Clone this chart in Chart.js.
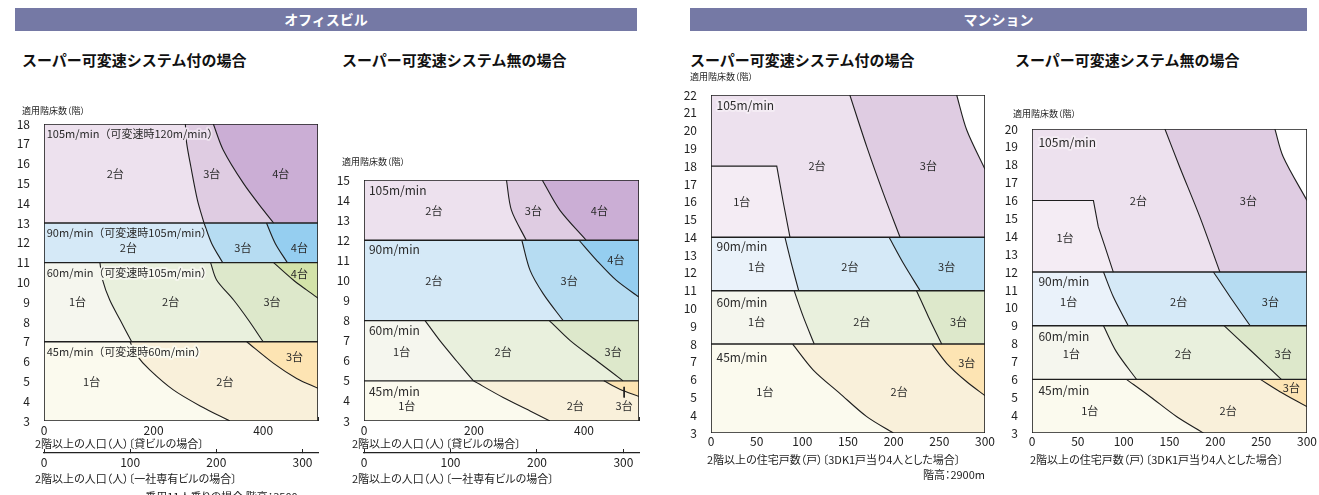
<!DOCTYPE html>
<html><head><meta charset="utf-8">
<script src="https://cdn.jsdelivr.net/npm/chart.js@4.4.1/dist/chart.umd.min.js"></script>
<style>
body{margin:0;background:#fff;width:1319px;height:495px;overflow:hidden;position:relative;font-family:"Noto Sans CJK JP","Noto Sans",sans-serif;color:#222}
.abs{position:absolute;white-space:nowrap}
.band{position:absolute;background:#7579a5;color:#fff;font-weight:bold;font-size:14px;text-align:center;line-height:23px;height:23px}
.ttl{font-size:15px;font-weight:bold;line-height:18px;color:#111}
.ytl{font-size:9px;line-height:11px;font-feature-settings:"palt"}
.xtl{font-size:11px;line-height:14px;font-feature-settings:"palt"}
canvas{position:absolute}
</style></head><body>
<canvas id="c1" width="340" height="395" style="left:0px;top:100px"></canvas>
<canvas id="c2" width="330" height="345" style="left:330px;top:150px"></canvas>
<canvas id="c3" width="335" height="415" style="left:670px;top:80px"></canvas>
<canvas id="c4" width="329" height="385" style="left:990px;top:110px"></canvas>

<div class="band" style="left:15px;top:8px;width:622px">オフィスビル</div>
<div class="band" style="left:690px;top:8px;width:617px">マンション</div>
<div class="abs ttl" style="left:22px;top:51px">スーパー可変速システム付の場合</div>
<div class="abs ttl" style="left:342px;top:51px">スーパー可変速システム無の場合</div>
<div class="abs ttl" style="left:690px;top:51px">スーパー可変速システム付の場合</div>
<div class="abs ttl" style="left:1015px;top:51px">スーパー可変速システム無の場合</div>
<div class="abs ytl" style="left:22px;top:105px">適用階床数（階）</div>
<div class="abs ytl" style="left:342px;top:156px">適用階床数（階）</div>
<div class="abs ytl" style="left:690px;top:71px">適用階床数（階）</div>
<div class="abs ytl" style="left:1013px;top:108px">適用階床数（階）</div>
<div class="abs xtl" style="left:35px;top:436px">2階以上の人口（人）〔貸ビルの場合〕</div>
<div class="abs xtl" style="left:35px;top:471px">2階以上の人口（人）〔一社専有ビルの場合〕</div>
<div class="abs xtl" style="left:100px;width:218px;text-align:right;top:489px">乗用11人乗りの場合 階高：3500mm</div>
<div class="abs xtl" style="left:352px;top:436px">2階以上の人口（人）〔貸ビルの場合〕</div>
<div class="abs xtl" style="left:352px;top:471px">2階以上の人口（人）〔一社専有ビルの場合〕</div>
<div class="abs xtl" style="left:707px;top:452px">2階以上の住宅戸数（戸）〔3DK1戸当り4人とした場合〕</div>
<div class="abs xtl" style="left:785px;width:200px;text-align:right;top:467px">階高：2900m</div>
<div class="abs xtl" style="left:1030px;top:452px">2階以上の住宅戸数（戸）〔3DK1戸当り4人とした場合〕</div>

<script>
// ---------- DATA ----------
// Office, with super variable speed system
const officeA_floors = [3, 18];
const officeA_popMax = 500;        // 貸ビル population axis max
const officeA_popMax2 = 318;       // 一社専有ビル population axis max
const officeA_bands = [[13, 18], [11, 13], [7, 11], [3, 7]];
const officeA_curves = [
  [ [[258,18],[260,17.1],[268,15.84],[280,14.16],[292,13]],
    [[309,18],[327,16.69],[364,15.0],[400,13.66],[419,13]] ],
  [ [[292,13],[306,11.97],[326,11]],
    [[406,13],[422,11.97],[444,11]] ],
  [ [[102,11],[107,10.12],[120,9.11],[139,8.1],[160,7]],
    [[304,11],[315,10.12],[346,9.11],[373,8.1],[400,7]],
    [[419,11],[455,10.12],[479,9.62],[500,9.2]] ],
  [ [[157,7],[169,6.33],[193,5.58],[236,4.57],[285,3.76],[339,3]],
    [[370,7],[419,5.91],[461,5.15],[500,4.65]] ]
];
const officeA_labels = [
  ['105m/min（可変速時120m/min）', 5, 17.5, 'left'],
  ['2台', 130, 15.5], ['3台', 306, 15.5], ['4台', 432, 15.5],
  ['90m/min（可変速時105m/min）', 5, 12.48, 'left'],
  ['2台', 154, 11.75], ['3台', 363, 11.75], ['4台', 466, 11.75],
  ['60m/min（可変速時105m/min）', 5, 10.49, 'left'],
  ['4台', 466, 10.45], ['1台', 61, 9.0], ['2台', 231, 9.0], ['3台', 416, 9.0],
  ['45m/min（可変速時60m/min）', 5, 6.5, 'left'],
  ['3台', 457, 6.25], ['1台', 87, 4.98], ['2台', 330, 5.0]
];

// Office, without super variable speed system
const officeB_floors = [3, 15];
const officeB_popMax = 500;
const officeB_popMax2 = 318;
const officeB_bands = [[12, 15], [8, 12], [5, 8], [3, 5]];
const officeB_curves = [
  [ [[259,15],[268,13.5],[295,12]],
    [[324,15],[356,13.5],[404,12]] ],
  [ [[287,12],[302,10.5],[326,9.33],[362,8]],
    [[391,12],[423,11],[459,10],[500,9.17]] ],
  [ [[111,8],[138,7],[168,6],[199,5]],
    [[337,8],[375,7],[423,6],[471,5]] ],
  [ [[199,5],[253,4.17],[302,3.5],[338,3]],
    [[436,5],[465,4.58],[500,4.22]] ]
];
const officeB_leader = [[473, 4.7], [473, 4.17]];
const officeB_labels = [
  ['105m/min', 9, 14.47, 'left'], ['2台', 127, 13.45], ['3台', 308, 13.45], ['4台', 428, 13.45],
  ['90m/min', 9, 11.53, 'left'], ['4台', 458, 11.03], ['2台', 127, 10], ['3台', 373, 10],
  ['60m/min', 9, 7.5, 'left'], ['1台', 68.5, 6.45], ['2台', 253, 6.45], ['3台', 453, 6.45],
  ['45m/min', 9, 4.47, 'left'], ['1台', 77.6, 3.75], ['2台', 384, 3.75], ['3台', 473, 3.75]
];

// Mansion, with super variable speed system
const mansionA_floors = [3, 22];
const mansionA_unitsMax = 300;
const mansionA_bands = [[14, 22], [11, 14], [8, 11], [3, 8]];
const mansionA_curves = [
  [ [[0,18],[72,18],[79,16],[86.5,14]],
    [[152,22],[170.5,19.1],[188.7,16.47],[207,14]],
    [[269,22],[280,20.03],[300,17.82]] ],
  [ [[81,14],[88,12.54],[96,11]],
    [[195,14],[210.6,12.54],[229,11]] ],
  [ [[91,11],[101,9.54],[113,8]],
    [[225,11],[238,9.54],[252.6,8]] ],
  [ [[89.4,8],[112,6.54],[141,5.23],[170.5,3.92],[199.6,3]],
    [[242,8],[258,6.92],[280,5.88],[300,5.1]] ]
];
const mansionA_labels = [
  ['105m/min', 6, 21.44, 'left'], ['2台', 116, 18.0], ['3台', 238, 18.0], ['1台', 33.6, 16.0],
  ['90m/min', 6, 13.47, 'left'], ['1台', 50, 12.35], ['2台', 152, 12.35], ['3台', 258, 12.35],
  ['60m/min', 6, 10.33, 'left'], ['1台', 50, 9.26], ['2台', 165, 9.26], ['3台', 271, 9.26],
  ['45m/min', 6, 7.25, 'left'], ['3台', 280, 6.97], ['1台', 59, 5.32], ['2台', 206, 5.32]
];

// Mansion, without super variable speed system
const mansionB_floors = [3, 20];
const mansionB_unitsMax = 300;
const mansionB_bands = [[12, 20], [9, 12], [6, 9], [3, 6]];
const mansionB_curves = [
  [ [[0,16],[67,16],[72.3,14.54],[79.6,13.42],[88.7,12]],
    [[145,20],[161,17.89],[183,15.1],[205,12]],
    [[265,20],[274,18.45],[300,16]] ],
  [ [[78,12],[88.7,10.62],[105,9]],
    [[198,12],[216,10.62],[238,9]] ],
  [ [[78,9],[92,7.55],[114,6]],
    [[209.5,9],[238,7.64],[272,6]] ],
  [ [[103,6],[129,5.03],[158,3.91],[187,3]],
    [[249,6],[270.5,5.31],[300,4.47]] ]
];
const mansionB_labels = [
  ['105m/min', 7, 19.26, 'left'], ['2台', 116, 15.99], ['3台', 236, 15.99], ['1台', 36, 13.89],
  ['90m/min', 7, 11.5, 'left'], ['1台', 40, 10.34], ['2台', 160, 10.34], ['3台', 260, 10.34],
  ['60m/min', 7, 8.42, 'left'], ['1台', 43, 7.45], ['2台', 165, 7.45], ['3台', 274, 7.45],
  ['45m/min', 7, 5.40, 'left'], ['3台', 283, 5.5], ['1台', 63, 4.25], ['2台', 214, 4.25]
];

// ---------- STYLE ----------
const FONT = '"Noto Sans CJK JP","Noto Sans",sans-serif';
const CURVE_TENSION = 0.3;
const PURPLE_OFF = ['#ede1ee', '#dfcce2', '#cbaed5'];
const BLUE_OFF = ['#d5e9f7', '#b6dcf2', '#95cef0'];
const GREEN = ['#f5f6ee', '#e9f0dd', '#dde8cb', '#d3e3a9'];
const ORANGE = ['#fbfaee', '#f9f0da', '#fde4b3'];
const PURPLE_MAN = ['#f4ecf4', '#ede1ee', '#dfcce2', '#ffffff'];
const BLUE_MAN = ['#eaf2fa', '#d5e9f7', '#b6dcf2'];

const regionLabels = {
  id: 'regionLabels',
  afterDatasetsDraw(chart, args, opts) {
    if (!opts || !opts.items) return;
    const ctx = chart.ctx, xs = chart.scales.x, ys = chart.scales.y;
    ctx.save();
    ctx.textBaseline = 'middle';
    ctx.lineJoin = 'round';
    for (const [text, x, y, align] of opts.items) {
      ctx.font = (align === 'left' ? opts.bandSize : 11) + 'px ' + FONT;
      ctx.textAlign = align || 'center';
      const px = xs.getPixelForValue(x), py = ys.getPixelForValue(y);
      if (align === 'left') {
        const bi = opts.bands.findIndex(([y0, y1]) => y >= y0 && y <= y1);
        ctx.strokeStyle = opts.palettes[bi][0];
        ctx.lineWidth = 4;
        ctx.strokeText(text, px, py);
      }
      ctx.fillStyle = '#2a2a2a';
      ctx.fillText(text, px, py);
    }
    ctx.restore();
  }
};
Chart.register(regionLabels);

function toPts(arr) { return arr.map(([x, y]) => ({x, y})); }
// Region right of a boundary: the boundary (ends doubled so the smoothed
// part matches the stroked boundary) closed by the plot corners.
function rightOf(pts, xMax, y0, y1) {
  const start = pts[0], end = pts[pts.length - 1];
  const out = [start].concat(pts, [end]);
  const corner = (x, y) => { out.push({x, y}, {x, y}); };
  if (end.y <= y0 + 1e-6) corner(xMax, y0);
  corner(xMax, y1);
  if (start.y < y1 - 1e-6) corner(0, y1);
  corner(start.x, start.y);
  return out;
}
function polyDs(pts, color, tension) {
  return {data: pts, showLine: true, fill: 'shape', backgroundColor: color,
    borderColor: 'rgba(0,0,0,0)', borderWidth: 0, pointRadius: 0, tension};
}
function lineDs(pts, w, tension) {
  return {data: pts, showLine: true, fill: false, borderColor: '#1e1e1e',
    borderWidth: w, pointRadius: 0, tension: tension || 0};
}

function makeChart(id, s) {
  const fills = [], lines = [];
  const [yMin, yMax] = s.floors;
  s.bands.forEach(([y0, y1], bi) => {
    const pal = s.palettes[bi];
    fills.push(polyDs(toPts([[0,y0],[s.xMax,y0],[s.xMax,y1],[0,y1],[0,y0]]), pal[0], 0));
    s.curves[bi].forEach((c, ci) => {
      const pts = toPts(c);
      const t = pts[0].x === 0 ? 0 : CURVE_TENSION;  // boxed region keeps sharp corner
      fills.push(polyDs(rightOf(pts, s.xMax, y0, y1), pal[ci + 1], t));
      lines.push(lineDs(pts, 1.1, t));
    });
    if (bi > 0) lines.push(lineDs(toPts([[0,y1],[s.xMax,y1]]), 1.4));
  });
  (s.extra || []).forEach(e => lines.push(lineDs(toPts(e), 1)));
  lines.push(lineDs(toPts([[0,yMin],[s.xMax,yMin],[s.xMax,yMax],[0,yMax],[0,yMin]]), 1.6));
  const datasets = fills.concat(lines).reverse();

  const tickFont = {family: FONT, size: 12};
  const scales = {
    x: {type: 'linear', min: 0, max: s.xMax, position: 'bottom', weight: 0,
      afterFit: sc => { sc.height = s.xH; },
      ticks: {stepSize: s.xStep, autoSkip: false, maxRotation: 0, includeBounds: false,
        padding: s.xPad, color: '#222', font: tickFont, callback: s.xCb},
      grid: {display: s.tickIn, drawOnChartArea: false, drawTicks: s.tickIn, tickLength: -4, color: '#222'},
      border: {display: false}},
    y: {type: 'linear', min: yMin, max: yMax,
      afterFit: sc => { sc.width = s.yW; },
      ticks: {stepSize: 1, autoSkip: false, padding: 6, color: '#222', font: tickFont},
      grid: {display: false}, border: {display: false}}
  };
  if (s.x2Max) {
    scales.x2 = {type: 'linear', min: 0, max: s.x2Max, position: 'bottom', weight: 1,
      afterFit: sc => { sc.height = s.x2H; },
      ticks: {stepSize: 100, autoSkip: false, maxRotation: 0, includeBounds: false,
        padding: 6, color: '#222', font: tickFont},
      grid: {display: true, drawOnChartArea: false, drawTicks: true, tickLength: -4, color: '#222'},
      border: {display: true, color: '#222', width: 1.2}};
  }
  return new Chart(document.getElementById(id), {
    type: 'scatter',
    data: {datasets},
    options: {
      responsive: false, animation: false, events: [],
      layout: {padding: s.padding},
      plugins: {legend: {display: false}, tooltip: {enabled: false},
        regionLabels: {items: s.labels, bandSize: s.bandSize, bands: s.bands, palettes: s.palettes}},
      scales
    }
  });
}

const officeTicks = v => (v % 200 === 0 && v < 500) ? v : '';

makeChart('c1', {floors: officeA_floors, xMax: officeA_popMax, x2Max: officeA_popMax2,
  bands: officeA_bands, curves: officeA_curves, labels: officeA_labels,
  palettes: [PURPLE_OFF, BLUE_OFF, GREEN, ORANGE],
  padding: {left: 10, top: 24, right: 22, bottom: 0}, yW: 34, xH: 32, x2H: 42,
  xStep: 100, xCb: officeTicks, xPad: 6, tickIn: true, bandSize: 11});

makeChart('c2', {floors: officeB_floors, xMax: officeB_popMax, x2Max: officeB_popMax2,
  bands: officeB_bands, curves: officeB_curves, labels: officeB_labels, extra: [officeB_leader],
  palettes: [PURPLE_OFF, BLUE_OFF, GREEN, ORANGE],
  padding: {left: 0, top: 30, right: 21, bottom: 0}, yW: 34, xH: 32, x2H: 42,
  xStep: 100, xCb: officeTicks, xPad: 6, tickIn: true, bandSize: 12});

makeChart('c3', {floors: mansionA_floors, xMax: mansionA_unitsMax,
  bands: mansionA_bands, curves: mansionA_curves, labels: mansionA_labels,
  palettes: [PURPLE_MAN, BLUE_MAN, GREEN, ORANGE],
  padding: {left: 0, top: 15, right: 20, bottom: 32}, yW: 41, xH: 30,
  xStep: 50, xCb: v => v, xPad: 1, tickIn: false, bandSize: 12});

makeChart('c4', {floors: mansionB_floors, xMax: mansionB_unitsMax,
  bands: mansionB_bands, curves: mansionB_curves, labels: mansionB_labels,
  palettes: [PURPLE_MAN, BLUE_MAN, GREEN, ORANGE],
  padding: {left: 0, top: 19, right: 12, bottom: 32}, yW: 42, xH: 30,
  xStep: 50, xCb: v => v, xPad: 1, tickIn: false, bandSize: 12});
</script>
</body></html>
